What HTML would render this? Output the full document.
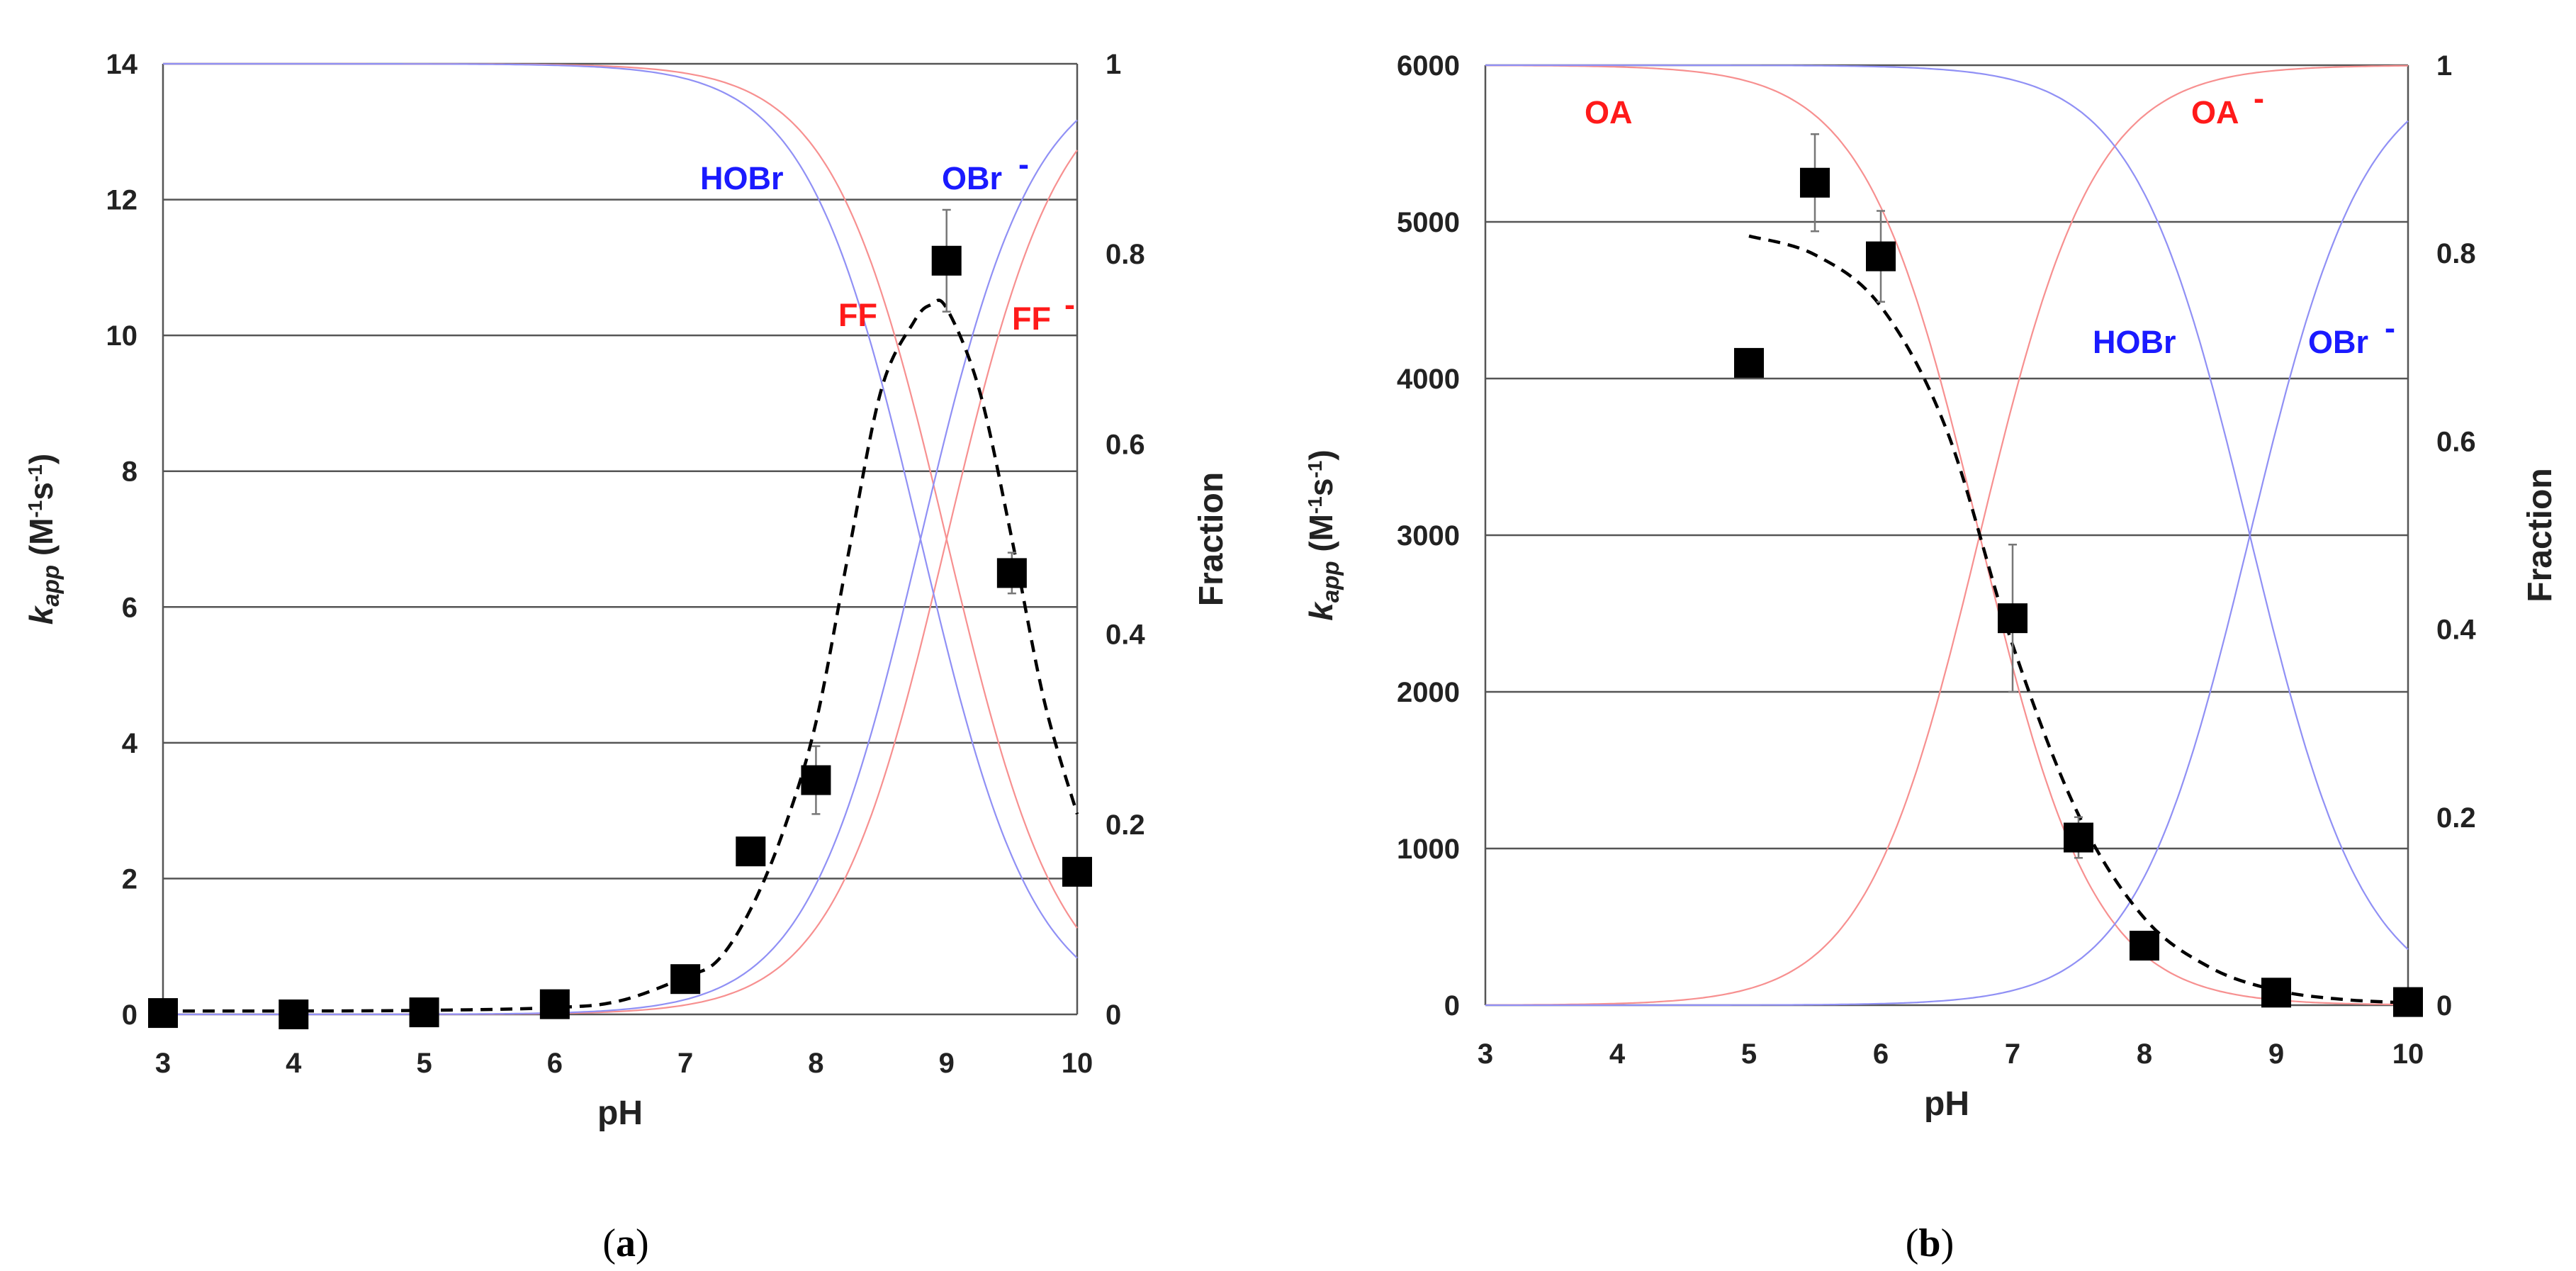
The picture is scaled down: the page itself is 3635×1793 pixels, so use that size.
<!DOCTYPE html>
<html><head><meta charset="utf-8"><style>
html,body{margin:0;padding:0;background:#fff;}
svg{display:block;font-family:"Liberation Sans",sans-serif;}
</style></head><body>
<svg id="fig" width="3635" height="1793" viewBox="0 0 3635 1793" xmlns="http://www.w3.org/2000/svg"></svg>
<script>
// ---- Chart (a) data ----
const aPH = [3,4,5,6,7,7.5,8,9,9.5,10];
const aK = [0.02,0,0.03,0.15,0.52,2.4,3.45,11.1,6.5,2.1];
const aErr = [0,0,0,0,0,0,0.5,0.75,0.3,0];
const aFitPH = [3,4,5,6,6.5,7,7.25,7.5,7.75,8,8.25,8.5,8.75,8.88,9,9.25,9.5,9.75,10];
const aFitK = [0.05,0.05,0.06,0.1,0.2,0.55,0.8,1.55,2.7,4.3,6.8,9.2,10.2,10.45,10.4,9.2,7.0,4.6,2.95];
const aPKaBlue = 8.8;
const aPKaRed = 9.0;
const aYTicks = [0,2,4,6,8,10,12,14];
// ---- Chart (b) data ----
const bPH = [5,5.5,6,7,7.5,8,9,10];
const bK = [4100,5250,4780,2470,1070,380,80,20];
const bErr = [50,310,290,470,130,80,0,0];
const bFitPH = [5,5.5,6,6.5,7,7.5,8,8.5,9,9.5,10];
const bFitK = [4910,4790,4460,3670,2300,1215,555,240,95,37,15];
const bPKaBlue = 8.8;
const bPKaRed = 6.75;
const bYTicks = [0,1000,2000,3000,4000,5000,6000];
const xTicks = [3,4,5,6,7,8,9,10];
const fracTicks = ['0','0.2','0.4','0.6','0.8','1'];

const NS='http://www.w3.org/2000/svg';
const svg=document.getElementById('fig');
function mk(tag,attrs,parent,text){const e=document.createElementNS(NS,tag);for(const k in attrs)e.setAttribute(k,attrs[k]);if(text!==undefined)e.textContent=text;(parent||svg).appendChild(e);return e;}
function smooth(pts){
  let d='M'+pts[0][0].toFixed(1)+','+pts[0][1].toFixed(1);
  for(let i=0;i<pts.length-1;i++){
    const p0=pts[Math.max(i-1,0)],p1=pts[i],p2=pts[i+1],p3=pts[Math.min(i+2,pts.length-1)];
    const c1=[p1[0]+(p2[0]-p0[0])/6,p1[1]+(p2[1]-p0[1])/6];
    const c2=[p2[0]-(p3[0]-p1[0])/6,p2[1]-(p3[1]-p1[1])/6];
    d+='C'+c1.map(v=>v.toFixed(1)).join(',')+' '+c2.map(v=>v.toFixed(1)).join(',')+' '+p2.map(v=>v.toFixed(1)).join(',');
  }
  return d;
}

function chart(o){
  const g=mk('g',{});
  
  
  const X=p=>o.L+(p-3)/7*(o.R-o.L);
  const Y=k=>o.B-k/o.ymax*(o.B-o.T);
  const F=f=>o.B-f*(o.B-o.T);
  o.yt.forEach(v=>{const l=mk('line',{x1:o.L,x2:o.R,y1:Y(v),y2:Y(v),stroke:'#555','stroke-width':2.5},g);
    
    const t=mk('text',{x:o.L-36,y:Y(v)+14,'text-anchor':'end','font-size':40,'font-weight':'bold',fill:'#222'},g,String(v));
    });
  fracTicks.forEach((s,i)=>{const t=mk('text',{x:o.R+40,y:F(i*0.2)+14,'font-size':40,'font-weight':'bold',fill:'#222'},g,s);
    });
  xTicks.forEach(v=>{const t=mk('text',{x:X(v),y:o.B+82,'text-anchor':'middle','font-size':40,'font-weight':'bold',fill:'#222'},g,String(v));
    });
  const ax=mk('path',{d:`M${o.L},${o.T}V${o.B}M${o.R},${o.T}V${o.B}`,stroke:'#555','stroke-width':2.5,fill:'none'},g);
  
  function frac(pka,color,nm){
    let d1='',d2='';
    for(let i=0;i<=280;i++){const p=3+i*7/280;const a=1/(1+Math.pow(10,p-pka));
      d1+=(i?'L':'M')+X(p).toFixed(1)+','+F(a).toFixed(1);d2+=(i?'L':'M')+X(p).toFixed(1)+','+F(1-a).toFixed(1);}
    const c1=mk('path',{d:d1,stroke:color,'stroke-width':2.2,fill:'none'},g);
    
    const c2=mk('path',{d:d2,stroke:color,'stroke-width':2.2,fill:'none'},g);
    
  }
  frac(o.pkR,'#f79090','red');
  frac(o.pkB,'#9090f5','blue');
  const pts=o.fx.map((p,i)=>[X(p),Y(o.fy[i])]);
  const fit=mk('path',{d:smooth(pts),stroke:'#000','stroke-width':4.5,fill:'none','stroke-dasharray':'17 11'},g);
  
  o.px.forEach((p,i)=>{
    if(o.err[i]>0){const e=mk('path',{d:`M${X(p)},${Y(o.py[i]+o.err[i])}V${Y(o.py[i]-o.err[i])}M${X(p)-6},${Y(o.py[i]+o.err[i])}h12M${X(p)-6},${Y(o.py[i]-o.err[i])}h12`,stroke:'#777','stroke-width':2.5,fill:'none'},g);
      }
    const r=mk('rect',{x:X(p)-21,y:Y(o.py[i])-21,width:42,height:42,fill:'#000'},g);
    
  });
  o.labels.forEach(l=>{const t=mk('text',{x:l[1],y:l[2],'font-size':45,'font-weight':'bold',fill:l[3]},g,l[0]);
    
    if(l[4]){const s=mk('text',{x:l[4],y:l[2]-20,'font-size':45,'font-weight':'bold',fill:l[3]},g,'-');
      }});
  const xt=mk('text',{x:(o.L+o.R)/2,y:o.B+155,'text-anchor':'middle','font-size':48,'font-weight':'bold',fill:'#222'},g,'pH');
  
  const ft=mk('text',{x:o.fx0,y:(o.T+o.B)/2,'text-anchor':'middle','font-size':48,'font-weight':'bold',fill:'#222',transform:`rotate(-90 ${o.fx0} ${(o.T+o.B)/2})`},g,'Fraction');
  
  const cy=(o.T+o.B)/2;
  const yt=mk('text',{x:o.yx0,y:cy,'text-anchor':'middle','font-size':46,'font-weight':'bold',fill:'#222',transform:`rotate(-90 ${o.yx0} ${cy})`},g);
  
  yt.innerHTML='<tspan font-style="italic">k</tspan><tspan font-style="italic" font-size="33" dy="9">app</tspan><tspan dy="-9"> (M</tspan><tspan font-size="28" dy="-15">-1</tspan><tspan dy="15">s</tspan><tspan font-size="28" dy="-15">-1</tspan><tspan dy="15">)</tspan>';
  const cap=mk('text',{x:o.capx,y:1772,'text-anchor':'middle','font-size':56,'font-family':'Liberation Serif, serif',fill:'#000'},g);
  
  cap.innerHTML='(<tspan font-weight="bold">'+o.cap+'</tspan>)';
}
chart({name:'chart-a',L:230,R:1520,T:90,B:1431,ymax:14,yt:aYTicks,px:aPH,py:aK,err:aErr,fx:aFitPH,fy:aFitK,pkB:aPKaBlue,pkR:aPKaRed,fx0:1725,yx0:74,capx:883,cap:'a',
  labels:[['HOBr',988,267,'#1a1aff'],['OBr',1329,267,'#1a1aff',1437],['FF',1183,460,'#ff1a1a'],['FF',1428,465,'#ff1a1a',1502]]});
chart({name:'chart-b',L:2096,R:3398,T:92,B:1418,ymax:6000,yt:bYTicks,px:bPH,py:bK,err:bErr,fx:bFitPH,fy:bFitK,pkB:bPKaBlue,pkR:bPKaRed,fx0:3600,yx0:1880,capx:2723,cap:'b',
  labels:[['OA',2236,174,'#ff1a1a'],['OA',3092,174,'#ff1a1a',3180],['HOBr',2953,498,'#1a1aff'],['OBr',3257,498,'#1a1aff',3365]]});
</script>
</body></html>
